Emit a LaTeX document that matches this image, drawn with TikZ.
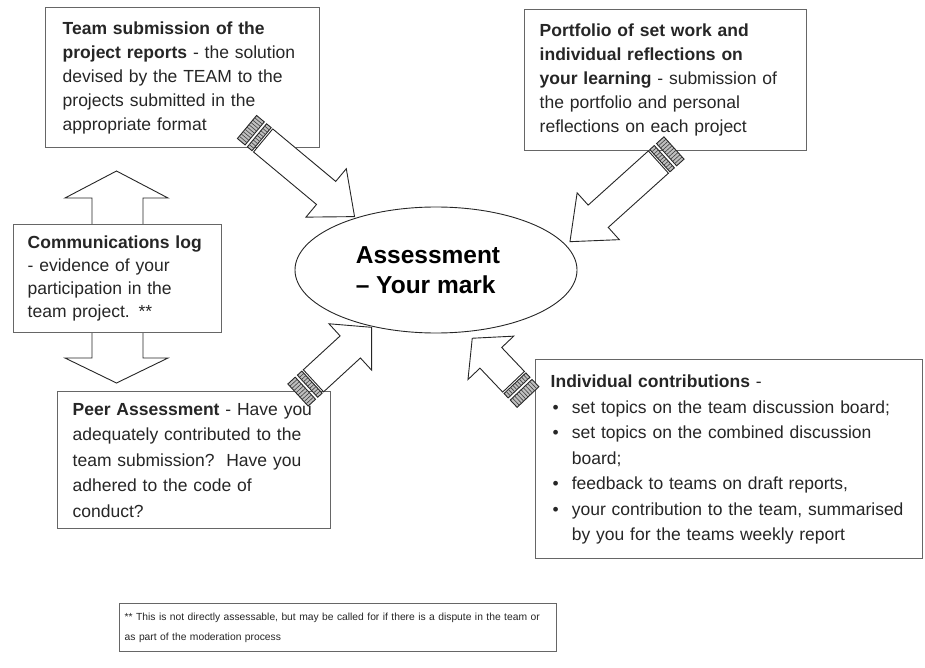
\documentclass[tikz,border=0pt]{standalone}
\usepackage{fontspec}
\setmainfont{Liberation Sans}
\usetikzlibrary{shapes.geometric}

% striped block arrow: tail coordinate, angle, length, head length
\newcommand{\striparrow}[4]{%
  \begin{scope}[shift={(#1)}, rotate=#2]
    \draw[arrowline] (21,-15) -- ({#3-#4},-15) -- ({#3-#4},-31.5) -- (#3,0)
      -- ({#3-#4},31.5) -- ({#3-#4},15) -- (21,15) -- cycle;
    \draw[arrowline, fill=black!25] (0,-15) rectangle (10,15);
    \draw[arrowline, fill=black!25] (13,-15) rectangle (19,15);
    \foreach \hh in {-12,-9,...,12}
      \draw[hatch] (0,\hh) -- (10,\hh) (13,\hh) -- (19,\hh);
  \end{scope}}

\begin{document}
\begin{tikzpicture}[x=1pt,y=-1pt,
    box/.style={draw=black!60, line width=1.4pt, fill=white, align=left,
      anchor=north west, inner ysep=0pt, text=black!85},
    body/.style={font=\fontsize{17.5}{#1}\selectfont},
    arrowline/.style={draw=black!85, line width=0.9pt, fill=white},
    hatch/.style={black!75, line width=0.6pt}]
  \useasboundingbox (0,0) rectangle (925,668);

  % double arrow behind the log box
  \draw[arrowline] (116.5,171) -- (168,198) -- (143,198) -- (143,358)
    -- (168,358) -- (116.5,383) -- (65,358) -- (92,358) -- (92,198)
    -- (65,198) -- cycle;

  \node[box, body=24, text width=240pt, inner xsep=17pt, minimum height=140pt] (team) at (45,7)
    {\textbf{Team submission of the}\\ \textbf{project reports} - the solution\\
     devised by the TEAM to the\\ projects submitted in the\\ appropriate format};
  \node[box, body=24, text width=252pt, inner xsep=15pt, minimum height=141pt] (portfolio) at (524,9)
    {\textbf{Portfolio of set work and}\\ \textbf{individual reflections on}\\
     \textbf{your learning} - submission of\\ the portfolio and personal\\
     reflections on each project};
  \node[box, body=23, text width=180pt, inner xsep=14pt, minimum height=108pt] (commlog) at (13,224)
    {\textbf{Communications log}\\ - evidence of your\\ participation in the\\ team project. **};
  \node[box, body=25.5, text width=243pt, inner xsep=15pt, minimum height=137pt] (peer) at (57,391)
    {\textbf{Peer Assessment} - Have you\\ adequately contributed to the\\
     team submission?\ \ Have you\\ adhered to the code of\\ conduct?};
  \node[box, body=25.5, text width=357pt, inner xsep=15pt, minimum height=199pt] (indiv) at (535,359)
    {\begin{tabular}{@{\hspace{2pt}}l@{\hspace{13pt}}l@{}}
       \multicolumn{2}{@{}l}{\textbf{Individual contributions} -}\\
       \textbullet & set topics on the team discussion board;\\
       \textbullet & set topics on the combined discussion\\
                   & board;\\
       \textbullet & feedback to teams on draft reports,\\
       \textbullet & your contribution to the team, summarised\\
                   & by you for the teams weekly report
     \end{tabular}};
  \node[box, font=\fontsize{10.3}{20}\selectfont, text width=427pt, inner xsep=5pt, minimum height=48pt] (note) at (119,603)
    {** This is not directly assessable, but may be called for if there is a dispute in the team or\\
     as part of the moderation process};

  \node[draw=black!85, line width=0.9pt, ellipse, minimum width=282pt, minimum height=126pt,
    inner sep=0pt, align=left, font=\fontsize{24.5}{30}\selectfont\bfseries] (assess) at (436,270)
    {Assessment\hspace*{16pt}\\-- Your mark};

  % arrows into the mark
  \coordinate (teamtail) at (247,127);
  \coordinate (portfoliotail) at (674,148);
  \coordinate (peertail) at (298,395);
  \coordinate (indivtail) at (528,397);
  \striparrow{teamtail}{-39.8}{140}{37}
  \striparrow{portfoliotail}{222}{140}{38}
  \striparrow{peertail}{42.6}{100}{29}
  \striparrow{indivtail}{133.5}{81}{27}
\end{tikzpicture}
\end{document}
